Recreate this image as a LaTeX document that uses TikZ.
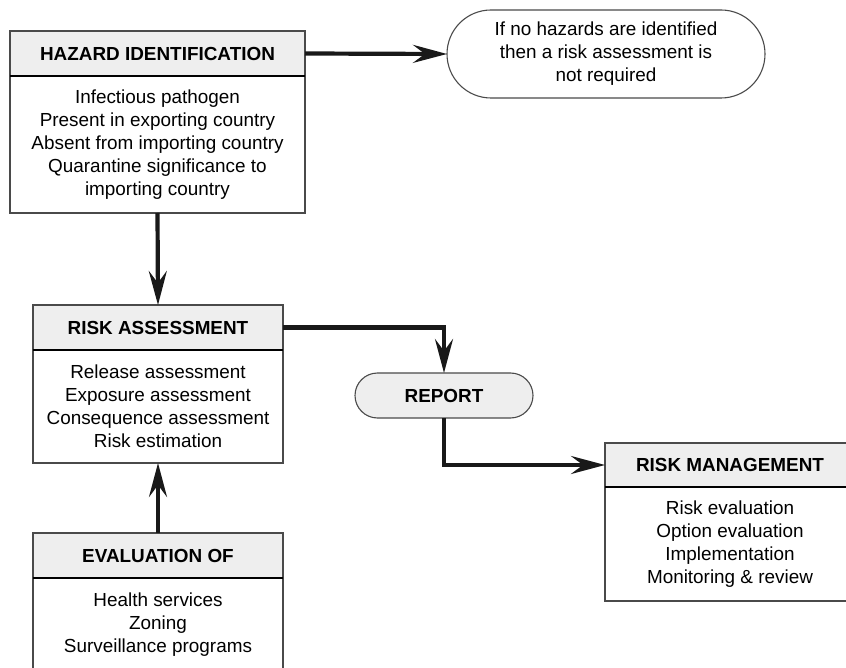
\documentclass[tikz,border=0pt]{standalone}
\usepackage{fontspec}
\setmainfont{Liberation Sans}
\usetikzlibrary{arrows.meta,shapes.misc}
\definecolor{hdrfill}{HTML}{EEEEEE}
\definecolor{edge}{HTML}{4A4A4A}
\tikzset{
  boxline/.style={draw=edge, line width=1.1pt},
  hdr/.style={boxline, fill=hdrfill, rectangle, inner sep=0pt, outer sep=0pt, anchor=north west,
    font=\fontsize{18.9}{23}\selectfont\bfseries},
  bodybox/.style={boxline, fill=white, rectangle, inner sep=0pt, outer sep=0pt, anchor=north west,
    align=center, font=\fontsize{18.9}{23}\selectfont},
  sepline/.style={draw=black, line width=2pt},
  pill/.style={boxline, rounded rectangle, inner sep=0pt, outer sep=0pt, align=center,
    font=\fontsize{18.9}{23}\selectfont},
  arr/.style={line width=4.2pt, draw=black!90, -{Stealth[length=34pt,width=18pt,inset=12pt]}},
}
\begin{document}
\begin{tikzpicture}[x=1pt,y=-1pt]
\useasboundingbox (0,0) rectangle (846,668);
% Hazard identification
\node[hdr, minimum width=295pt, minimum height=45pt] (haz) at (10,31) {HAZARD IDENTIFICATION};
\node[bodybox, minimum width=295pt, minimum height=137pt] (hazb) at (10,76)
  {Infectious pathogen\\Present in exporting country\\Absent from importing country\\Quarantine significance to\\importing country};
\draw[sepline] (hazb.north west) -- (hazb.north east);
% No-hazard pill
\node[pill, minimum width=318pt, minimum height=88pt] (nohaz) at (606,54)
  {If no hazards are identified\\then a risk assessment is\\not required};
% Risk assessment
\node[hdr, minimum width=250pt, minimum height=45pt] (ra) at (33,305) {RISK ASSESSMENT};
\node[bodybox, minimum width=250pt, minimum height=113pt] (rab) at (33,350)
  {Release assessment\\Exposure assessment\\Consequence assessment\\Risk estimation};
\draw[sepline] (rab.north west) -- (rab.north east);
% Report
\node[pill, fill=hdrfill, minimum width=178pt, minimum height=45pt, font=\fontsize{18.9}{23}\selectfont\bfseries] (report) at (444,395.5) {REPORT};
% Risk management
\node[hdr, minimum width=250pt, minimum height=44pt] (rm) at (605,443) {RISK MANAGEMENT};
\node[bodybox, minimum width=250pt, minimum height=114pt] (rmb) at (605,487)
  {Risk evaluation\\Option evaluation\\Implementation\\Monitoring \& review};
\draw[sepline] (rmb.north west) -- (rmb.north east);
% Evaluation of
\node[hdr, minimum width=250pt, minimum height=45pt] (ev) at (33,533) {EVALUATION OF};
\node[bodybox, minimum width=250pt, minimum height=94pt] (evb) at (33,578)
  {Health services\\Zoning\\Surveillance programs};
\draw[sepline] (evb.north west) -- (evb.north east);
% Connectors
\draw[arr] (haz.east) -- (nohaz.west);
\draw[arr] (hazb.south) -- (ra.north);
\draw[arr] (ra.east) -| (report.north);
\draw[arr] (report.south) |- (rm.west);
\draw[arr] (ev.north) -- (rab.south);
\end{tikzpicture}
\end{document}
